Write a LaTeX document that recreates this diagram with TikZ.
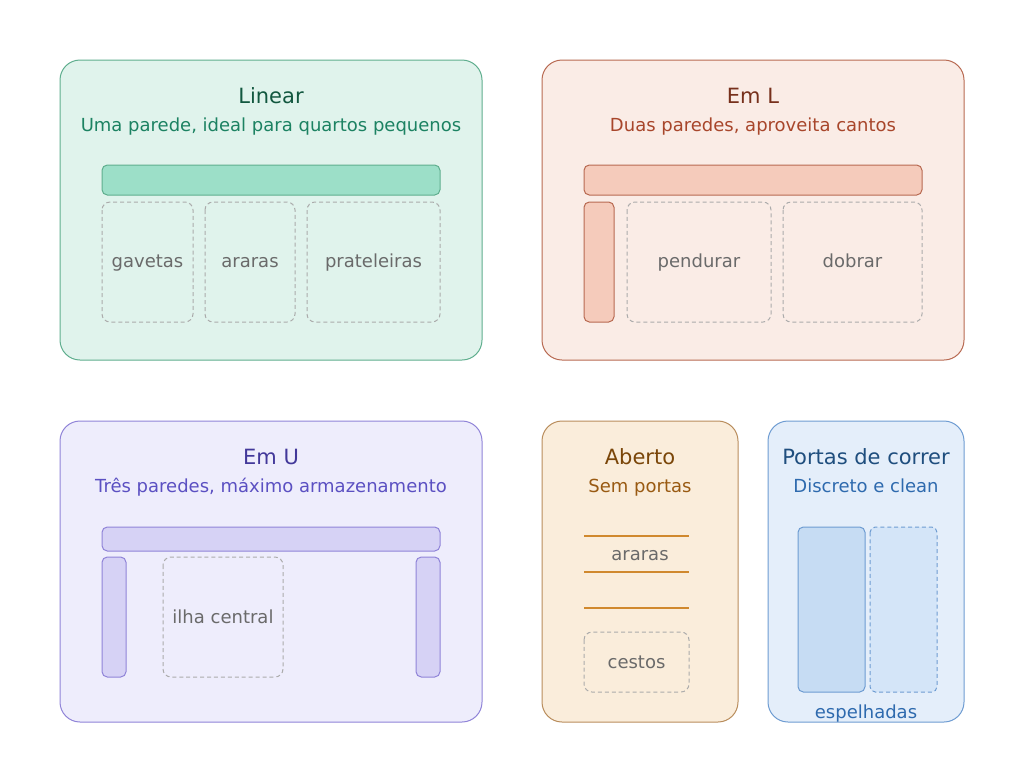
\documentclass[tikz,border=0pt]{standalone}
\usepackage{fontspec}
\setmainfont{DejaVu Sans}
\definecolor{linfill}{HTML}{E0F3EC}
\definecolor{linline}{HTML}{5FAE8E}
\definecolor{linbar}{HTML}{9CDFC8}
\definecolor{lintitle}{HTML}{12573F}
\definecolor{linsub}{HTML}{1C8262}
\definecolor{lfill}{HTML}{FAECE6}
\definecolor{lline}{HTML}{B86A52}
\definecolor{lbar}{HTML}{F5CBBB}
\definecolor{ltitle}{HTML}{77301C}
\definecolor{lsub}{HTML}{A8462B}
\definecolor{ufill}{HTML}{EEEDFC}
\definecolor{uline}{HTML}{9084D8}
\definecolor{ubar}{HTML}{D6D2F5}
\definecolor{utitle}{HTML}{42389A}
\definecolor{usub}{HTML}{5B50C2}
\definecolor{afill}{HTML}{FAEDDB}
\definecolor{aline}{HTML}{B98D5C}
\definecolor{arail}{HTML}{D0892E}
\definecolor{atitle}{HTML}{7A4609}
\definecolor{asub}{HTML}{995A12}
\definecolor{pfill}{HTML}{E4EEFA}
\definecolor{pline}{HTML}{6E9CD2}
\definecolor{pdoor}{HTML}{C6DCF3}
\definecolor{pdoortwo}{HTML}{D4E5F8}
\definecolor{ptitle}{HTML}{1F4E7E}
\definecolor{psub}{HTML}{2E6AAE}
\definecolor{labelgray}{HTML}{6A6A6A}
\definecolor{dashgray}{HTML}{ABABAB}
\begin{document}
\begin{tikzpicture}[x=0.75pt,y=-0.75pt,
	panel/.style={rounded corners=15pt,line width=0.75pt},
	bar/.style={rounded corners=4pt,line width=0.75pt},
	slot/.style={rounded corners=6pt,line width=0.75pt,draw=dashgray,dash pattern=on 3pt off 2.2pt},
	titletext/.style={anchor=base,font=\fontsize{15.75}{18}\selectfont},
	subtext/.style={anchor=base,font=\fontsize{13.5}{16}\selectfont},
	slottext/.style={anchor=base,text=labelgray,font=\fontsize{13.5}{16}\selectfont}]
	\useasboundingbox (0,0) rectangle (1024,783);
	\fill[white] (0,0) rectangle (1024,783);
	% linear
	\draw[panel,draw=linline,fill=linfill] (60,60) rectangle (482,360);
	\node[titletext,text=lintitle] (lintitle) at (271,103) {Linear};
	\node[subtext,text=linsub] (linsub) at (271,131) {Uma parede, ideal para quartos pequenos};
	\draw[bar,draw=linline,fill=linbar] (102,165) rectangle (440,195);
	\draw[slot] (102,202) rectangle (193,322);
	\draw[slot] (205,202) rectangle (295,322);
	\draw[slot] (307,202) rectangle (440,322);
	\node[slottext] (gavetas) at (147.5,267) {gavetas};
	\node[slottext] (lararas) at (250,267) {araras};
	\node[slottext] (prateleiras) at (373.5,267) {prateleiras};
	% em L
	\draw[panel,draw=lline,fill=lfill] (542,60) rectangle (964,360);
	\node[titletext,text=ltitle] (ltitle) at (753,103) {Em L};
	\node[subtext,text=lsub] (lsub) at (753,131) {Duas paredes, aproveita cantos};
	\draw[bar,draw=lline,fill=lbar] (584,165) rectangle (922,195);
	\draw[bar,draw=lline,fill=lbar] (584,202) rectangle (614,322);
	\draw[slot] (627,202) rectangle (771,322);
	\draw[slot] (783,202) rectangle (922,322);
	\node[slottext] (pendurar) at (699,267) {pendurar};
	\node[slottext] (dobrar) at (852.5,267) {dobrar};
	% em U
	\draw[panel,draw=uline,fill=ufill] (60,421) rectangle (482,722);
	\node[titletext,text=utitle] (utitle) at (271,464) {Em U};
	\node[subtext,text=usub] (usub) at (271,492) {Três paredes, máximo armazenamento};
	\draw[bar,draw=uline,fill=ubar] (102,527) rectangle (440,551);
	\draw[bar,draw=uline,fill=ubar] (102,557) rectangle (126,677);
	\draw[bar,draw=uline,fill=ubar] (416,557) rectangle (440,677);
	\draw[slot] (163,557) rectangle (283,677);
	\node[slottext] (ilha) at (223,623) {ilha central};
	% aberto
	\draw[panel,draw=aline,fill=afill] (542,421) rectangle (738,722);
	\node[titletext,text=atitle] (atitle) at (640,464) {Aberto};
	\node[subtext,text=asub] (asub) at (640,492) {Sem portas};
	\foreach \y in {536,572,608}
		\draw[arail,line width=1.9pt] (584,\y) -- (689,\y);
	\node[slottext] (aararas) at (640,560) {araras};
	\draw[slot] (584,632) rectangle (689,692);
	\node[slottext] (cestos) at (636.5,668) {cestos};
	% portas de correr
	\draw[panel,draw=pline,fill=pfill] (768,421) rectangle (964,722);
	\node[titletext,text=ptitle] (ptitle) at (866,464) {Portas de correr};
	\node[subtext,text=psub] (psub) at (866,492) {Discreto e clean};
	\draw[bar,draw=pline,fill=pdoor] (798,527) rectangle (865,692);
	\draw[bar,draw=pline,fill=pdoortwo,dash pattern=on 3pt off 2.2pt] (870,527) rectangle (937,692);
	\node[subtext,text=psub] (espelhadas) at (866,718) {espelhadas};
\end{tikzpicture}
\end{document}
